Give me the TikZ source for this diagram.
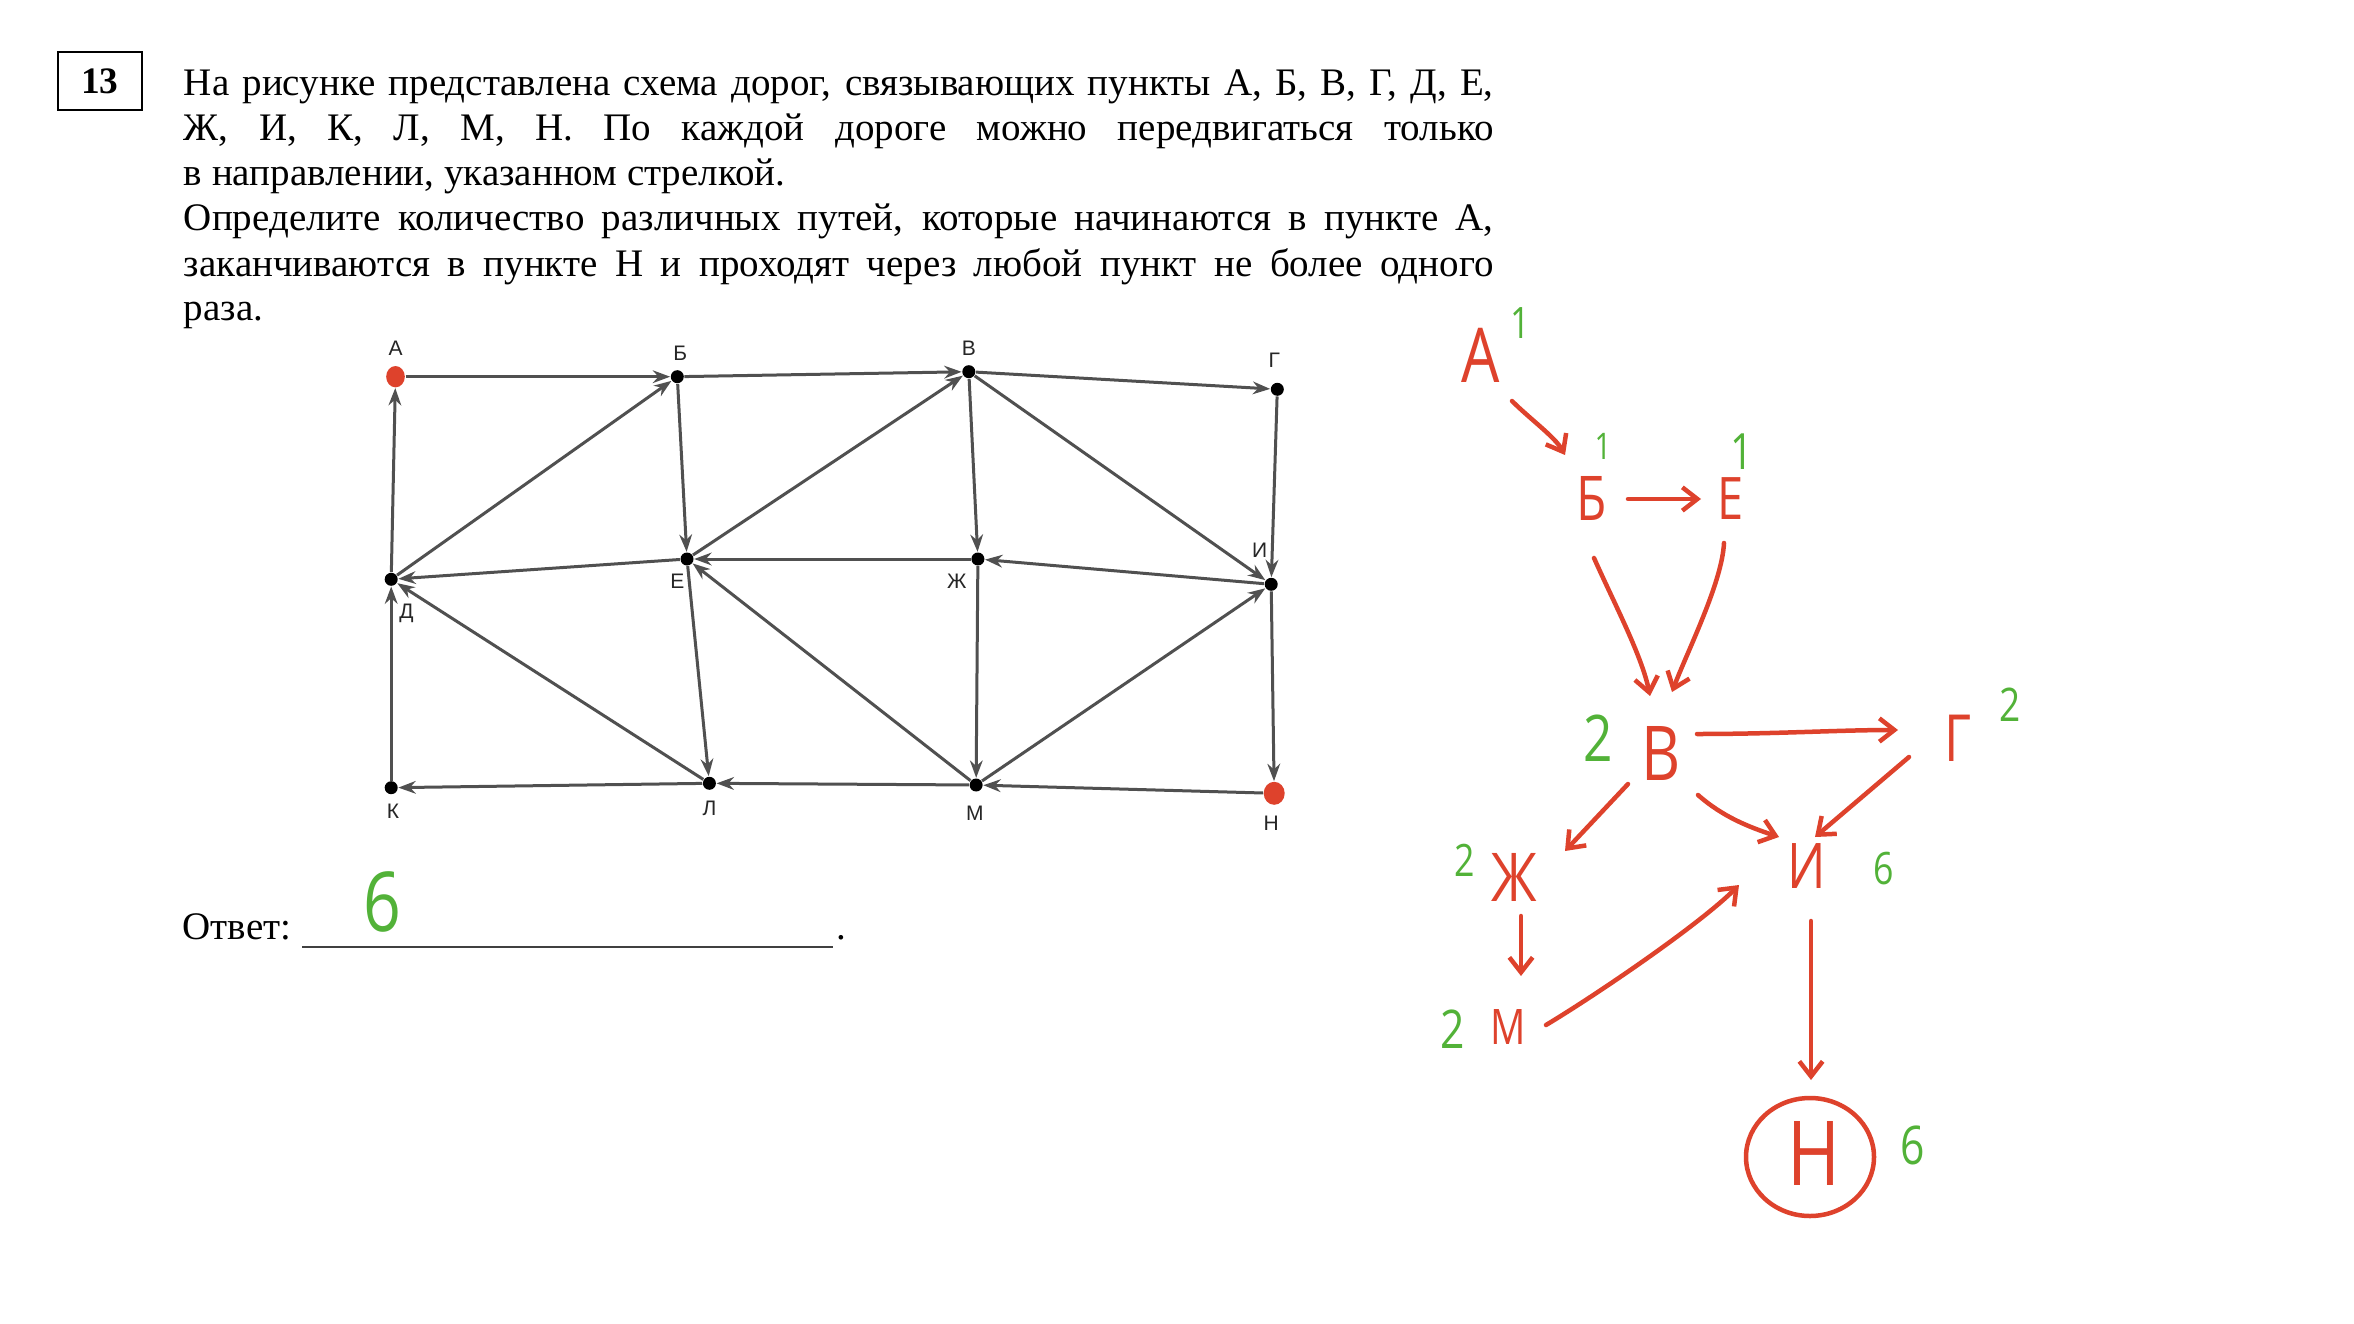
\documentclass[tikz,border=0pt]{standalone}
\usepackage{fontspec}
\setmainfont{Liberation Serif}
\newfontfamily\lblfont{Liberation Sans}
\newfontfamily\handfont[FakeStretch=0.8]{Open Sans}
\usetikzlibrary{arrows.meta,calc,shapes.geometric}
\definecolor{hred}{HTML}{DE422C}
\definecolor{hgreen}{HTML}{52B238}
\definecolor{edgegray}{HTML}{505050}
\begin{document}
\begin{tikzpicture}[x=0.3pt,y=-0.3pt,
  gdot/.style={circle,fill=black,inner sep=0,minimum size=3.9pt},
  reddot/.style={ellipse,fill=hred,inner sep=0,minimum width=5.6pt,minimum height=6.4pt},
  road/.style={draw=edgegray,line width=0.9pt,-{Stealth[length=5.2pt,width=3.8pt]}},
  lbl/.style={font=\lblfont\fontsize{6.3}{7}\selectfont,inner sep=0,text=black!85},
  bodytext/.style={font=\fontsize{11.7}{13.5}\selectfont,anchor=base west,inner sep=0},
  hl/.style={text=hred,inner sep=0,font=\handfont\fontsize{#1}{#1}\selectfont},
  hn/.style={text=hgreen,inner sep=0,font=\handfont\fontsize{#1}{#1}\selectfont},
  harrow/.style={draw=hred,line width=1.35pt,line cap=round,line join=round,-{Straight Barb[length=4.5pt,width=7pt]}},
]
\path[use as bounding box,fill=white] (0,0) rectangle (2354,1324);

% problem number box
\node[draw,line width=0.6pt,minimum width=25pt,minimum height=17.5pt,inner sep=0,font=\fontsize{11.2}{13.5}\selectfont\bfseries] (box) at (100,80.9) {13};

% problem text
\node[bodytext] (t1) at (183.3,95) {\makebox[392.9pt][s]{На рисунке представлена схема дорог, связывающих пункты А, Б, В, Г, Д, Е,}};
\node[bodytext] (t2) at (183.3,140) {\makebox[392.9pt][s]{Ж, И, К, Л, М, Н. По каждой дороге можно передвигаться только}};
\node[bodytext] (t3) at (183.3,185) {в направлении, указанном стрелкой.};
\node[bodytext] (t4) at (183.3,230) {\makebox[392.9pt][s]{Определите количество различных путей, которые начинаются в пункте А,}};
\node[bodytext] (t5) at (183.3,276) {\makebox[392.9pt][s]{заканчиваются в пункте Н и проходят через любой пункт не более одного}};
\node[bodytext] (t6) at (183.3,320) {раза.};

% answer line
\node[bodytext] (otv) at (182,939) {Ответ:};
\draw[line width=0.45pt,black!75] (302,947) -- (833,947);
\node[bodytext] (dotend) at (836,939) {.};
\node[hn=24.8] (ans) at (382,902) {6};

% road graph
\node[reddot] (gA) at (395.5,376.7) {};
\node[gdot] (gB) at (677.3,376.7) {};
\node[gdot] (gV) at (968.8,371.7) {};
\node[gdot] (gG) at (1277.3,389.3) {};
\node[gdot] (gD) at (391.2,579.3) {};
\node[gdot] (gE) at (687.0,559.0) {};
\node[gdot] (gZh) at (977.9,559.0) {};
\node[gdot] (gI) at (1271.2,584.3) {};
\node[gdot] (gK) at (391.2,787.7) {};
\node[gdot] (gL) at (709.4,783.3) {};
\node[gdot] (gM) at (976.1,785.0) {};
\node[reddot,minimum width=6.3pt,minimum height=6.9pt] (gN) at (1274.2,793.3) {};

\node[lbl] (lA) at (395.5,348.3) {А};
\node[lbl] (lB) at (680.3,353.3) {Б};
\node[lbl] (lV) at (968.8,348.3) {В};
\node[lbl] (lG) at (1274.2,360) {Г};
\node[lbl] (lI) at (1259.7,550) {И};
\node[lbl] (lE) at (677.3,581.7) {Е};
\node[lbl] (lZh) at (956.7,581.7) {Ж};
\node[lbl] (lD) at (406.4,613) {Д};
\node[lbl] (lK) at (393,811.7) {К};
\node[lbl] (lL) at (709.4,808.3) {Л};
\node[lbl] (lM) at (974.8,813.3) {М};
\node[lbl] (lN) at (1271.2,823.3) {Н};

\draw[road] (gA) -- (gB);
\draw[road] (gB) -- (gV);
\draw[road] (gV) -- (gG);
\draw[road] (gD) -- (gA);
\draw[road] (gD) -- (gB);
\draw[road] (gB) -- (gE);
\draw[road] (gE) -- (gV);
\draw[road] (gV) -- (gZh);
\draw[road] (gV) -- (gI);
\draw[road] (gG) -- (gI);
\draw[road] (gE) -- (gD);
\draw[road] (gZh) -- (gE);
\draw[road] (gI) -- (gZh);
\draw[road] (gK) -- (gD);
\draw[road] (gL) -- (gD);
\draw[road] (gE) -- (gL);
\draw[road] (gM) -- (gE);
\draw[road] (gZh) -- (gM);
\draw[road] (gM) -- (gI);
\draw[road] (gI) -- (gN);
\draw[road] (gL) -- (gK);
\draw[road] (gM) -- (gL);
\draw[road] (gN) -- (gM);

% handwritten solution
\node[hl=22.7] (hA) at (1481,355) {А};
\node[hl=18.5] (hB) at (1592,498) {Б};
\node[hl=17.6] (hE) at (1731,499) {Е};
\node[hl=22.7] (hV) at (1661,753) {В};
\node[hl=19.5] (hG) at (1958,738) {Г};
\node[hl=20.2] (hZh) at (1514,877) {Ж};
\node[hl=18.9] (hI) at (1807,866) {И};
\node[hl=14.7] (hM) at (1508,1027) {М};
\node[hl=26.9] (hN) at (1814,1153) {Н};
\draw[hred,line width=1.35pt] ($(hN)+(-4,4)$) ellipse [x radius=19.2pt,y radius=17.7pt];

\node[hn=13] (nA) at (1520,323) {1};
\node[hn=11] (nB) at (1603,446) {1};
\node[hn=15] (nE) at (1742,452) {1};
\node[hn=19.3] (nV) at (1598,738) {2};
\node[hn=13.9] (nG) at (2010,705) {2};
\node[hn=13.4] (nZh) at (1465,860) {2};
\node[hn=13.4] (nI) at (1884,869) {6};
\node[hn=16] (nM) at (1453,1029) {2};
\node[hn=16] (nN) at (1913,1145) {6};

\draw[harrow] ($(hA)+(31,46)$) .. controls +(18,18) and +(-10,-18) .. ($(hB)+(-27,-43)$);
\draw[harrow] ($(hB)+(36,1)$) -- ($(hE)+(-30,0)$);
\draw[harrow] ($(hB)+(2,60)$) .. controls +(20,45) and +(-8,-40) .. ($(hV)+(-11,-57)$);
\draw[harrow] ($(hE)+(-7,44)$) .. controls +(-2,40) and +(15,-40) .. ($(hV)+(11,-61)$);
\draw[harrow] ($(hV)+(36,-19)$) .. controls +(80,0) and +(-60,0) .. ($(hG)+(-60,-8)$);
\draw[harrow] ($(hV)+(-33,31)$) -- ($(hZh)+(51,-26)$);
\draw[harrow] ($(hV)+(37,42)$) .. controls +(25,22) and +(-30,-10) .. ($(hI)+(-28,-29)$);
\draw[harrow] ($(hG)+(-49,19)$) -- ($(hI)+(8,-29)$);
\draw[harrow] ($(hZh)+(7,39)$) -- ($(hM)+(13,-51)$);
\draw[harrow] ($(hM)+(38,-2)$) .. controls +(50,-30) and +(-40,40) .. ($(hI)+(-68,19)$);
\draw[harrow] ($(hI)+(4,55)$) -- ($(hN)+(-3,-73)$);
\end{tikzpicture}
\end{document}
